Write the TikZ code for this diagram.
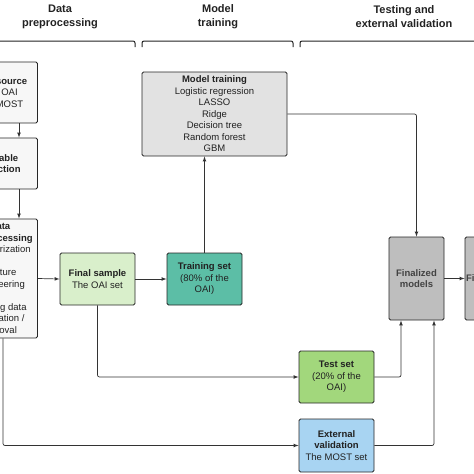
\documentclass[tikz,border=0pt]{standalone}
\usepackage{fontspec}
\setmainfont{Liberation Sans}
\usepackage{tikz}
\usetikzlibrary{arrows}

\definecolor{txt}{HTML}{222222}
\definecolor{boxline}{HTML}{262626}
\definecolor{linegray}{HTML}{333333}
\definecolor{prepfill}{HTML}{F7F7F7}
\definecolor{modelfill}{HTML}{E2E2E2}
\definecolor{finalfill}{HTML}{D9EFCB}
\definecolor{trainfill}{HTML}{5CBEA6}
\definecolor{testfill}{HTML}{A2D77C}
\definecolor{extfill}{HTML}{A8D4F2}
\definecolor{donefill}{HTML}{BEBEBE}

\begin{document}
\begin{tikzpicture}[>=latex,x=1pt,y=-1pt,
  box/.style={draw=boxline,line width=0.9pt,rounded corners=1.5pt,align=center,
    text=txt,inner sep=1pt,font=\fontsize{9.5}{11.5}\selectfont},
  link/.style={->,draw=linegray,line width=0.7pt,rounded corners=2pt},
  phase/.style={align=center,text=txt,font=\fontsize{11}{14}\selectfont\bfseries},
  brace/.style={draw=txt,line width=1pt,rounded corners=2pt}]

\useasboundingbox (0,0) rectangle (474,474);
\clip (0,0) rectangle (474,474);

% PHASES

% Headings.
\node[phase] (hprep) at (60,16.5) {Data\\preprocessing};
\node[phase] (htrain) at (218,16.5) {Model\\training};
\node[phase] (htest) at (404,16.5) {Testing and\\external validation};

% Brackets.
\draw[brace] (-10,41) -- (135,41) -- (135,47);
\draw[brace] (142,47) -- (142,41) -- (293,41) -- (293,47);
\draw[brace] (300,47) -- (300,41) -- (484,41);

% BOXES

% Data preprocessing column.
\node[box,fill=prepfill,minimum width=75,minimum height=61] (source) at (0,92.5)
  {\textbf{Data source}\\The OAI\\The MOST};
\node[box,fill=prepfill,minimum width=75,minimum height=51] (varsel) at (0,163.5)
  {\textbf{Variable}\\\textbf{selection}};
\node[box,fill=prepfill,minimum width=75,minimum height=119] (preproc) at (0,278.5)
  {\textbf{Data}\\\textbf{preprocessing}\\Categorization\\[11.5pt]Feature\\engineering\\[11.5pt]Missing data\\imputation /\\removal};

% Final sample.
\node[box,fill=finalfill,minimum width=75,minimum height=52] (final) at (97.5,279)
  {\textbf{Final sample}\\The OAI set};

% Training set.
\node[box,fill=trainfill,minimum width=75,minimum height=52] (train) at (204.5,279)
  {\textbf{Training set}\\(80\% of the\\OAI)};

% Model training.
\node[box,fill=modelfill,minimum width=145,minimum height=84] (model) at (214.5,114)
  {\textbf{Model training}\\Logistic regression\\LASSO\\Ridge\\Decision tree\\Random forest\\GBM};

% Test set.
\node[box,fill=testfill,minimum width=75,minimum height=52] (test) at (336.5,377)
  {\textbf{Test set}\\(20\% of the\\OAI)};

% External validation.
\node[box,fill=extfill,minimum width=75,minimum height=53] (extval) at (336.5,445.5)
  {\textbf{External}\\\textbf{validation}\\The MOST set};

% Finalized models.
\node[box,fill=donefill,minimum width=55,minimum height=83,text=txt!85] (done) at (416.5,278.5)
  {\textbf{Finalized}\\\textbf{models}};
\node[box,fill=donefill,minimum width=55,minimum height=83,text=txt!85] (result) at (492.5,278.5)
  {\textbf{Final model}};

% CONNECTIONS

\coordinate (donetest) at ([xshift=-15.5pt]done.south);
\coordinate (doneext) at ([xshift=17.5pt]done.south);

% Data preprocessing steps.
\draw[link] ([xshift=19pt]source.south) -- ([xshift=19pt]varsel.north);
\draw[link] ([xshift=19pt]varsel.south) -- ([xshift=19pt]preproc.north);
\draw[link] (preproc.east) -- (final.west);

% Split of the final sample.
\draw[link] (final.east) -- (train.west);
\draw[link] (final.south) |- (test.west);
\draw[link] ([xshift=3pt]preproc.south) |- (extval.west);

% Training -> models -> finalized.
\draw[link] (train.north) -- (train.north |- model.south);
\draw[link] (model.east) -| (done.north);

% Test / validation -> finalized.
\draw[link] (test.east) -| (donetest);
\draw[link] (extval.east) -| (doneext);
\draw[link] (done.east) -- (result.west);

\end{tikzpicture}
\end{document}
